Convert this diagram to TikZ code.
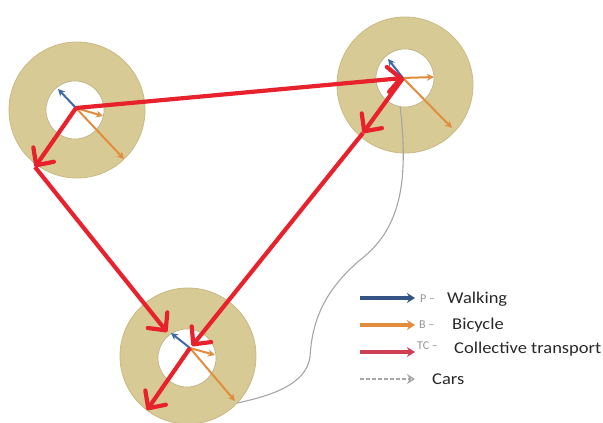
\documentclass[tikz,border=0pt]{standalone}
\usepackage{fontspec}
\setmainfont{Carlito}
\usetikzlibrary{arrows.meta}
\definecolor{ringfill}{RGB}{216,202,148}
\definecolor{ringedge}{RGB}{200,186,130}
\definecolor{tcred}{RGB}{232,34,44}
\definecolor{bikeorange}{RGB}{226,140,62}
\definecolor{walkblue}{RGB}{62,104,166}
\definecolor{legblue}{RGB}{52,84,134}
\definecolor{legred}{RGB}{206,62,84}
\definecolor{carsgray}{RGB}{165,165,165}
\definecolor{txt}{RGB}{40,40,40}
\tikzset{
  ring/.style={circle, fill=ringfill, draw=ringedge, line width=0.8pt, inner sep=0pt, minimum size=136pt},
  hole/.style={circle, fill=white, draw=ringedge!80!gray, line width=0.6pt, inner sep=0pt, minimum size=58pt},
  tc/.style={draw=tcred, line width=4.2pt, line join=round, -{Straight Barb[length=13pt, width=25pt, round]}},
  walk/.style={draw=walkblue, line width=2pt, -{Stealth[length=7pt, width=7pt]}},
  bike/.style={draw=bikeorange, line width=2pt, -{Stealth[length=7pt, width=7pt]}},
  cars/.style={draw=carsgray, line width=1.1pt},
  legwalk/.style={draw=legblue, line width=3.2pt, -{Stealth[length=8pt, width=10pt]}},
  legbike/.style={draw=bikeorange, line width=3.2pt, -{Stealth[length=8pt, width=10pt]}},
  legtc/.style={draw=legred, line width=3.2pt, -{Stealth[length=8pt, width=10pt]}},
  legcars/.style={draw=carsgray, line width=2pt, dash pattern=on 4pt off 2pt, -{Stealth[length=8pt, width=10pt, open]}},
  tag/.style={text=black!42, font=\fontsize{12}{13}\selectfont, anchor=base west, inner sep=0pt},
  lbl/.style={text=txt, font=\fontsize{16.5}{18}\selectfont, anchor=base west, inner sep=0pt, xscale=1.12},
}
\begin{document}
\begin{tikzpicture}[x=1pt, y=-1pt]
\useasboundingbox (0,0) rectangle (603,423);

% three catchment rings
\node[ring] (r1) at (77,110) {};
\node[ring] (r2) at (405,85) {};
\node[ring] (r3) at (188,356) {};

% car route from the upper right ring down to the lower ring
\coordinate (carA) at (399,96);
\coordinate (carB) at (360,260);
\coordinate (carC) at (310,357);
\coordinate (carD) at (237,403);
\draw[cars] (carA) .. controls (408,170) and (406,225) .. (carB)
  .. controls (325,290) and (312,320) .. (carC)
  .. controls (306,385) and (270,396) .. (carD);

% inner walking zones
\node[hole] (h1) at (75,110) {};
\node[hole] (h2) at (405,78) {};
\node[hole] (h3) at (187,358) {};

% centres and arrow ends
\coordinate (c1) at (76,108);
\coordinate (c2) at (403,78);
\coordinate (c3) at (190,348);
\coordinate (w1) at (58,89);
\coordinate (w2) at (388,59);
\coordinate (w3) at (171,333);
\coordinate (s1) at (103,116);
\coordinate (s2) at (434,77);
\coordinate (s3) at (215,355);
\coordinate (l1) at (124,159);
\coordinate (l2) at (452,128);
\coordinate (l3) at (235,401);

% walking and bicycle arrows
\foreach \i in {1,2,3}{
  \draw[bike] (c\i) -- (l\i);
  \draw[bike] (c\i) -- (s\i);
  \draw[walk] (c\i) -- (w\i);
}

% collective transport links
\coordinate (a1) at (35,167);
\coordinate (a2) at (363,133);
\coordinate (t3) at (167,332);
\coordinate (t4) at (192,346);
\coordinate (a3) at (147,410);
\draw[tc] (c1) -- (c2);
\draw[tc] (c1) -- (a1);
\draw[tc] (a1) -- (t3);
\draw[tc] (c2) -- (a2);
\draw[tc] (a2) -- (t4);
\draw[tc] (c3) -- (a3);

% legend
\coordinate (k1a) at (360,298); \coordinate (k1b) at (415,298);
\coordinate (k2a) at (360,325); \coordinate (k2b) at (415,325);
\coordinate (k3a) at (360,352); \coordinate (k3b) at (415,352);
\coordinate (k4a) at (360,379); \coordinate (k4b) at (415,379);
\draw[legwalk] (k1a) -- (k1b);
\draw[legbike] (k2a) -- (k2b);
\draw[legtc] (k3a) -- (k3b);
\draw[legcars] (k4a) -- (k4b);
\node[tag] (p1) at (420,302) {P –};
\node[tag] (p2) at (419,328) {B –};
\node[tag] (p3) at (417,349) {TC –};
\node[lbl] (t1) at (447,303) {Walking};
\node[lbl] (t2) at (452,329) {Bicycle};
\node[lbl] (t5) at (454,353) {Collective transport};
\node[lbl] (t6) at (432,384) {Cars};
\end{tikzpicture}
\end{document}
